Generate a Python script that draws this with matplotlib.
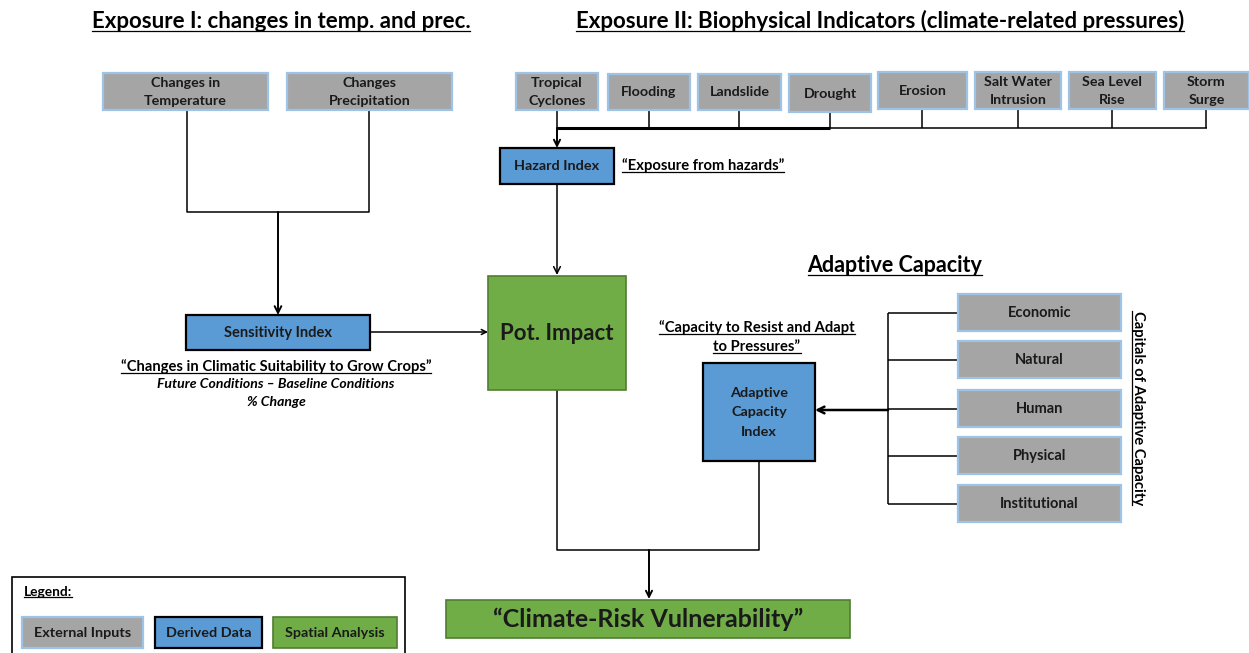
import matplotlib
matplotlib.use("Agg")
import matplotlib.pyplot as plt
from matplotlib.patches import Rectangle

# ---------------- data (labels) ----------------
title_exposure1 = "Exposure I: changes in temp. and prec."
title_exposure2 = "Exposure II: Biophysical Indicators (climate-related pressures)"
title_adaptive = "Adaptive Capacity"
exposure1_inputs = ["Changes in\nTemperature", "Changes\nPrecipitation"]
hazard_inputs = ["Tropical\nCyclones", "Flooding", "Landslide", "Drought", "Erosion",
                 "Salt Water\nIntrusion", "Sea Level\nRise", "Storm\nSurge"]
capitals = ["Economic", "Natural", "Human", "Physical", "Institutional"]
legend_items = ["External Inputs", "Derived Data", "Spatial Analysis"]
sensitivity_notes = ["\u201cChanges in Climatic Suitability to Grow Crops\u201d",
                     "Future Conditions \u2013 Baseline Conditions", "% Change"]
adaptive_notes = ["\u201cCapacity to Resist and Adapt", "to Pressures\u201d"]

# ---------------- layout ----------------
W, H = 1249, 653
fig = plt.figure(figsize=(12.49, 6.53), dpi=100)
ax = fig.add_axes([0, 0, 1, 1])
ax.set_xlim(0, W)
ax.set_ylim(H, 0)
ax.axis("off")
FONT = ["Lato", "DejaVu Sans"]

GREY, GREY_EDGE = "#a5a5a5", "#9dc3e6"
BLUE, GREEN, GREEN_EDGE = "#5b9bd5", "#70ad47", "#507e32"
STYLE = {"grey": (GREY, GREY_EDGE, 1.6), "blue": (BLUE, "black", 1.6),
         "green": (GREEN, GREEN_EDGE, 1.2)}


def box(x0, y0, x1, y1, kind, text, fs=10.5, ls=1.6):
    fc, ec, lw = STYLE[kind]
    ax.add_patch(Rectangle((x0, y0), x1 - x0, y1 - y0, facecolor=fc,
                           edgecolor=ec, lw=lw, zorder=3))
    ax.text((x0 + x1) / 2, (y0 + y1) / 2 + 0.5, text, ha="center", va="center",
            fontsize=fs, fontweight="bold", family=FONT, color="#1a1a1a",
            linespacing=ls, zorder=4)


def line(xs, ys, lw=1.1):
    ax.plot(xs, ys, color="black", lw=lw, solid_capstyle="butt", zorder=2)


def arrow(x0, y0, x1, y1, lw=1.1, ms=12):
    ax.annotate("", xy=(x1, y1), xytext=(x0, y0),
                arrowprops=dict(arrowstyle="->", lw=lw, color="black",
                                mutation_scale=ms, shrinkA=0, shrinkB=0), zorder=2)


underlined = []


def utext(x, y, s, fs, ha="center", style="normal", rot=0):
    t = ax.text(x, y, s, ha=ha, va="center", fontsize=fs, fontweight="bold",
                family=FONT, style=style, rotation=rot, color="black", zorder=4)
    underlined.append((t, rot))
    return t


def ptext(x, y, s, fs, ha="center", style="normal"):
    return ax.text(x, y, s, ha=ha, va="center", fontsize=fs, fontweight="bold",
                   family=FONT, style=style, color="black", zorder=4)


# ---------------- titles ----------------
utext(281, 21, title_exposure1, 16)
utext(880, 21, title_exposure2, 16)
utext(895, 265, title_adaptive, 15.5)

# ---------------- exposure I ----------------
e1_pos = [(103, 73, 268, 110), (287, 73, 452, 110)]
for (x0, y0, x1, y1), lab in zip(e1_pos, exposure1_inputs):
    box(x0, y0, x1, y1, "grey", lab, 10.3)
line([187, 187, 369, 369], [110, 212, 212, 110])
arrow(278, 212, 278, 315, lw=1.4)
box(186, 315, 370, 350, "blue", "Sensitivity Index", 10.5)
arrow(370, 332, 488, 332, lw=1.1, ms=9)
utext(276, 367, sensitivity_notes[0], 10.6)
ptext(276, 384, sensitivity_notes[1], 10.1, style="italic")
ptext(276, 402, sensitivity_notes[2], 10.1, style="italic")

# ---------------- exposure II ----------------
hz_pos = [(516, 73, 598, 110), (608, 74, 690, 110), (698, 74, 781, 110),
          (789, 74, 871, 112), (878, 72, 967, 109), (975, 72, 1061, 109),
          (1069, 72, 1156, 109), (1164, 72, 1249, 109)]
for (x0, y0, x1, y1), lab in zip(hz_pos, hazard_inputs):
    box(x0, y0, x1, y1, "grey", lab, 10.3)
    xc = (x0 + x1) / 2
    line([xc, xc], [y1, 128])
line([557, 1207], [128, 128], lw=1.1)
line([557, 830], [128, 128], lw=2.2)
arrow(557, 128, 557, 148, lw=1.4, ms=11)
box(500, 148, 614, 184, "blue", "Hazard Index", 10.4)
utext(622, 166, "\u201cExposure from hazards\u201d", 10.6, ha="left")
arrow(557, 184, 557, 275)

# ---------------- potential impact ----------------
box(488, 276, 626, 390, "green", "Pot. Impact", 16)
line([557, 557, 759, 759], [390, 550, 550, 461])
arrow(649, 550, 649, 599, lw=1.4, ms=11)
box(446, 600, 850, 638, "green", "\u201cClimate-Risk Vulnerability\u201d", 18)

# ---------------- adaptive capacity ----------------
utext(757, 328, adaptive_notes[0], 10.6)
utext(757, 347, adaptive_notes[1], 10.6)
box(703, 363, 815, 461, "blue", "Adaptive\nCapacity\nIndex", 10.4, ls=1.75)
cap_pos = [(958, 294, 1121, 331), (958, 341, 1121, 378), (958, 390, 1121, 427),
           (958, 437, 1121, 474), (958, 485, 1121, 522)]
for (x0, y0, x1, y1), lab in zip(cap_pos, capitals):
    box(x0, y0, x1, y1, "grey", lab, 10.5)
    yc = (y0 + y1) / 2
    line([888, x0], [yc, yc])
line([888, 888], [(cap_pos[0][1] + cap_pos[0][3]) / 2, (cap_pos[-1][1] + cap_pos[-1][3]) / 2])
arrow(888, 410, 815, 410, lw=1.8, ms=12)
utext(1138, 408, "Capitals of Adaptive Capacity", 10.6, rot=270)

# ---------------- legend ----------------
ax.add_patch(Rectangle((12, 577), 393, 90, facecolor="white", edgecolor="black",
                       lw=1.2, zorder=1))
utext(24, 592, "Legend:", 9.9, ha="left")
leg_pos = [(22, 617, 143, 648, "grey"), (155, 617, 262, 648, "blue"),
           (273, 617, 397, 648, "green")]
for (x0, y0, x1, y1, kind), lab in zip(leg_pos, legend_items):
    box(x0, y0, x1, y1, kind, lab, 10.4)

# ---------------- underlines ----------------
fig.canvas.draw()
r = fig.canvas.get_renderer()
inv = ax.transData.inverted()
for t, rot in underlined:
    bb = t.get_window_extent(r).transformed(inv)
    xa, xb = sorted([bb.x0, bb.x1])
    ya, yb = sorted([bb.y0, bb.y1])
    if rot == 0:
        ax.plot([xa, xb], [yb - 1, yb - 1], color="black", lw=0.9, zorder=4)
    else:
        ax.plot([xa + 1, xa + 1], [ya, yb], color="black", lw=0.9, zorder=4)

fig.savefig("out.png", dpi=100, facecolor="white")
